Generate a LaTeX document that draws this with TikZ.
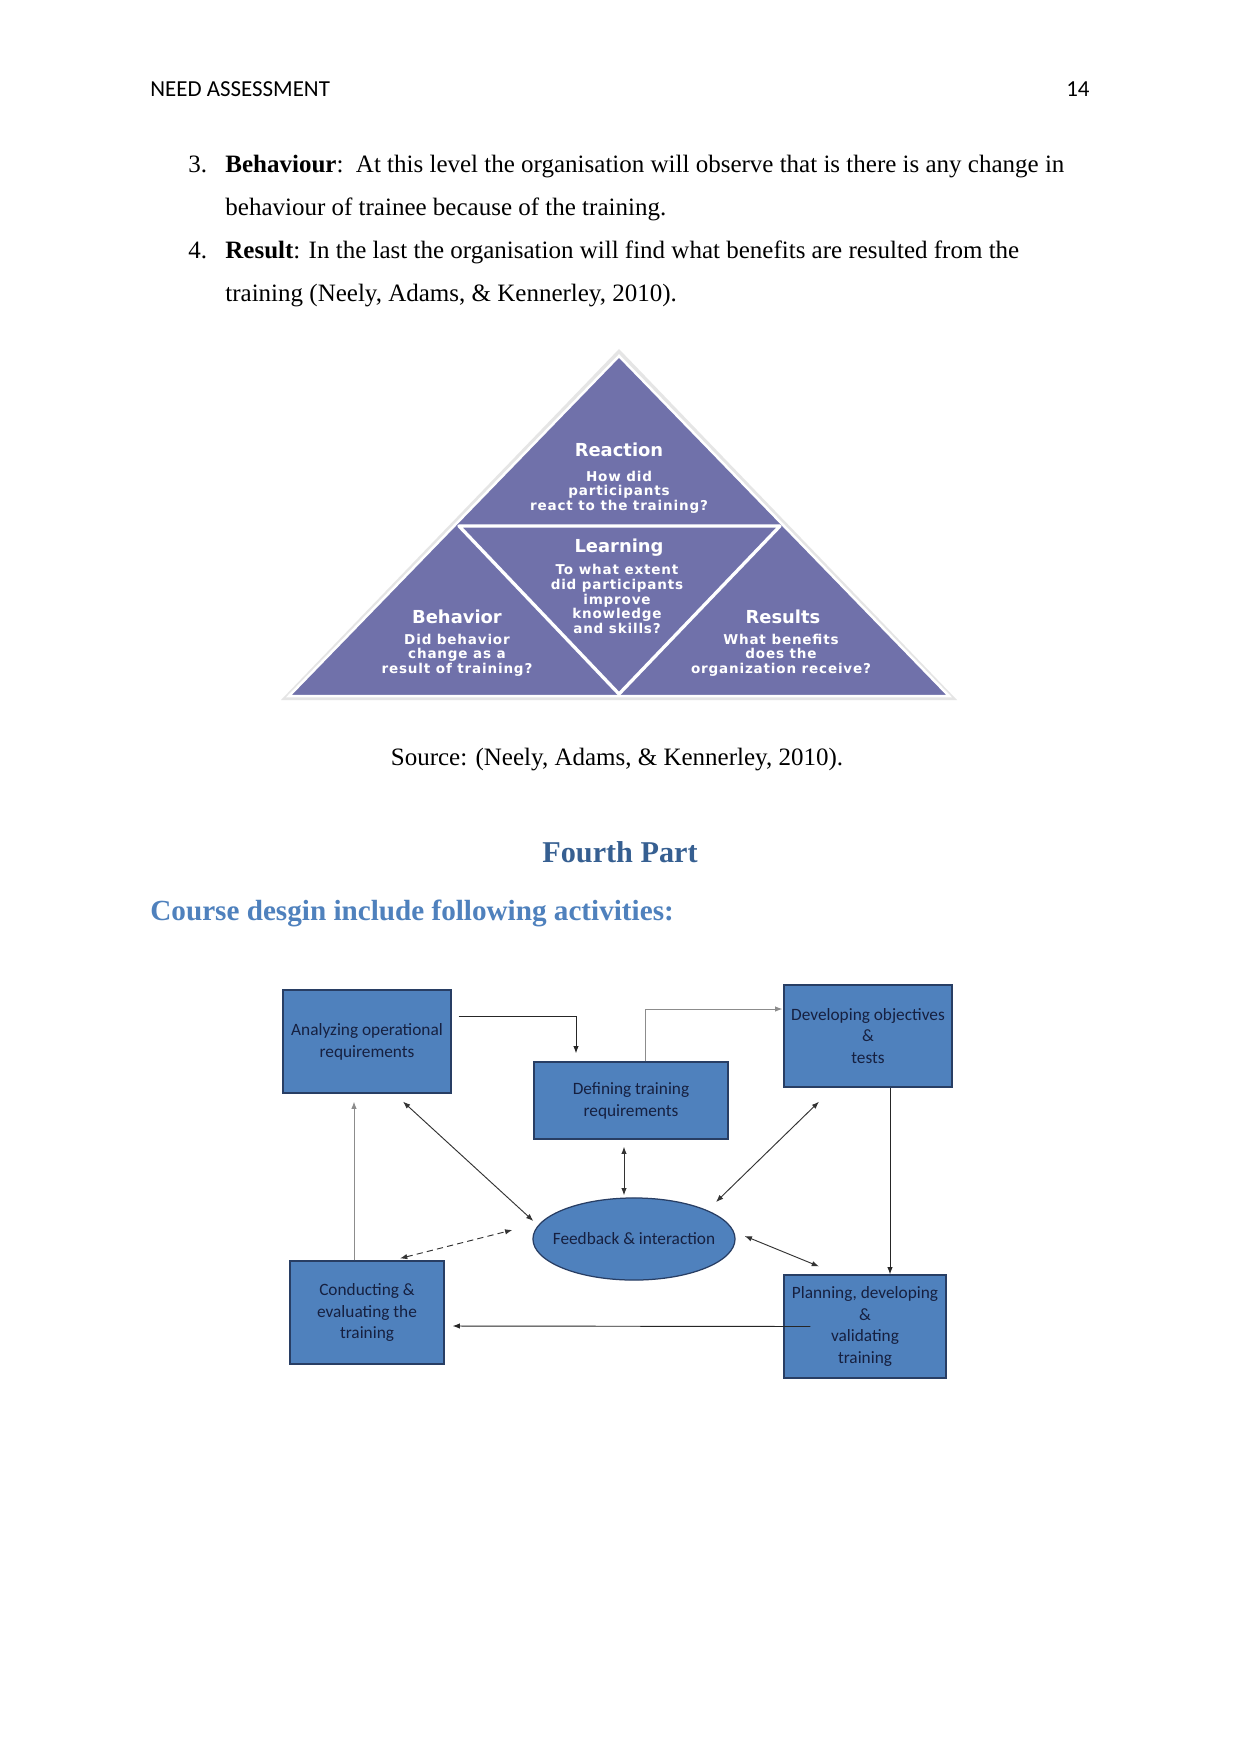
\documentclass[tikz,border=0pt]{standalone}
\usepackage{fontspec}
\setmainfont{Liberation Serif}
\newfontfamily\hdrfont{Carlito}
\newfontfamily\pyrfont{DejaVu Sans}
\newfontfamily\pyrqfont[LetterSpace=6]{DejaVu Sans}
\newfontfamily\boxfont{Carlito}
\usetikzlibrary{arrows.meta, positioning, calc, shapes.geometric}

\definecolor{pyrfill}{RGB}{112,113,170}
\definecolor{boxfill}{RGB}{79,129,189}
\definecolor{boxline}{RGB}{40,62,100}
\definecolor{boxtext}{RGB}{22,32,64}
\definecolor{headdark}{RGB}{54,95,145}
\definecolor{headlight}{RGB}{79,129,189}

\begin{document}
\begin{tikzpicture}[
    x=0.48pt, y=-0.48pt,
    bodyline/.style={anchor=base west, inner sep=0pt, font=\fontsize{12}{14}\selectfont},
    tritle/.style={font=\pyrfont\bfseries\fontsize{8.6}{9}\selectfont, text=white, inner sep=0pt},
    triq/.style={font=\pyrqfont\bfseries\fontsize{6.5}{7}\selectfont, text=white, align=center, inner sep=0pt},
    procbox/.style={rectangle, draw=boxline, fill=boxfill, line width=0.6pt, align=center,
                    text=boxtext, inner sep=2pt, font=\boxfont\fontsize{8.3}{10.5}\selectfont},
    flow/.style={draw=black!85, line width=0.45pt, -{Latex[length=3.5pt,width=2.6pt]}},
    flowlight/.style={flow, draw=black!45},
    both/.style={draw=black!80, line width=0.45pt, {Latex[length=3.5pt,width=2.6pt]}-{Latex[length=3.5pt,width=2.6pt]}}
]
    \useasboundingbox[fill=white] (0,0) rectangle (1241,1754);

    % header
    \node[anchor=base west, inner sep=0pt, font=\hdrfont\fontsize{11}{13}\selectfont] (hdr) at (150,96.5) {NEED ASSESSMENT};
    \node[anchor=base east, inner sep=0pt, font=\hdrfont\fontsize{11}{13}\selectfont] (pageno) at (1090,96.5) {14};

    % list items
    \node[bodyline] (num3) at (188,172) {3.};
    \node[bodyline] (item3a) at (225,172) {\textbf{Behaviour}:\ \ At this level the organisation will observe that is there is any change in};
    \node[bodyline] (item3b) at (225,215) {behaviour of trainee because of the training.};
    \node[bodyline] (num4) at (188,258) {4.};
    \node[bodyline] (item4a) at (225,258) {\textbf{Result}: In the last the organisation will find what benefits are resulted from the};
    \node[bodyline] (item4b) at (225,301) {training (Neely, Adams, \& Kennerley, 2010).};

    % pyramid
    \fill[black!10] (619,349) -- (957,700) -- (281,700) -- cycle;
    \fill[pyrfill, draw=white, line width=1.2pt] (619,356) -- (949,696) -- (289,696) -- cycle;
    \draw[white, line width=1.6pt, line join=round] (459,526) -- (780,526) -- (619,694) -- cycle;

    \node[tritle] (reactt) at (619,450) {Reaction};
    \node[triq] (reactq) at (619,492) {How did\\participants\\react to the training?};
    \node[tritle] (learnt) at (619,548) {Learning};
    \node[triq] (learnq) at (617,599) {To what extent\\did participants\\improve\\knowledge\\and skills?};
    \node[tritle] (behavt) at (457,617) {Behavior};
    \node[triq] (behavq) at (457,655) {Did behavior\\change as a\\result of training?};
    \node[tritle] (resultt) at (783,617) {Results};
    \node[triq] (resultq) at (781,655) {What benefits\\does the\\organization receive?};

    \node[anchor=base, inner sep=0pt, font=\fontsize{12}{14}\selectfont] (source) at (617,765) {Source: (Neely, Adams, \& Kennerley, 2010).};

    % headings
    \node[anchor=base, inner sep=0pt, text=headdark, font=\bfseries\fontsize{14.5}{16}\selectfont] (part) at (620,862) {Fourth Part};
    \node[anchor=base west, inner sep=0pt, text=headlight, font=\bfseries\fontsize{14}{16}\selectfont] (course) at (150,920) {Course desgin include following activities:};

    % course design flow
    \node[procbox, minimum width=80.6pt, minimum height=49.4pt] (analyze) at (367,1041.5) {Analyzing operational\\requirements};
    \node[procbox, minimum width=93.1pt, minimum height=37pt] (define) at (631,1100.5) {Defining training\\requirements};
    \node[procbox, minimum width=80.6pt, minimum height=49pt] (develop) at (868,1036) {Developing objectives\\\&\\tests};
    \node[procbox, ellipse, inner xsep=-5pt, minimum width=97pt, minimum height=39.4pt] (feedback) at (634,1239) {Feedback \& interaction};
    \node[procbox, minimum width=73.9pt, minimum height=49.4pt] (conduct) at (367,1312.5) {Conducting \&\\evaluating the\\training};
    \node[procbox, minimum width=77.8pt, minimum height=49.4pt] (plan) at (865,1326.5) {Planning, developing\\\&\\validating\\training};

    \coordinate (devdown) at ($(develop.south)+(22,0)$);
    \draw[flow] ($(analyze.east)+(7,-25)$) -| ($(define.north)+(-55,-8)$);
    \draw[flowlight] ($(define.north)+(14,0)$) |- ($(develop.west)+(-1,-27)$);
    \draw[flow] (devdown) -- (devdown |- plan.north);
    \draw[flow] ($(plan.west)+(27,0)$) -- ($(conduct.east)+(8,13.5)$);
    \draw[flowlight] ($(conduct.north)+(-13,0)$) -- ($(analyze.south)+(-13,8)$);

    \draw[both] ($(analyze.south)+(36,8)$) -- ($(feedback.west)+(1,-18)$);
    \draw[both] ($(define.south)+(-7,7)$) -- ($(feedback.north)+(-10,-2)$);
    \draw[both] ($(develop.south)+(-49,14)$) -- ($(feedback.center)+(82,-37)$);
    \draw[both, densely dashed] ($(conduct.north)+(33,-2)$) -- ($(feedback.west)+(-20,-9)$);
    \draw[both] ($(feedback.east)+(9,-3)$) -- ($(plan.north)+(-46,-8)$);
\end{tikzpicture}
\end{document}
